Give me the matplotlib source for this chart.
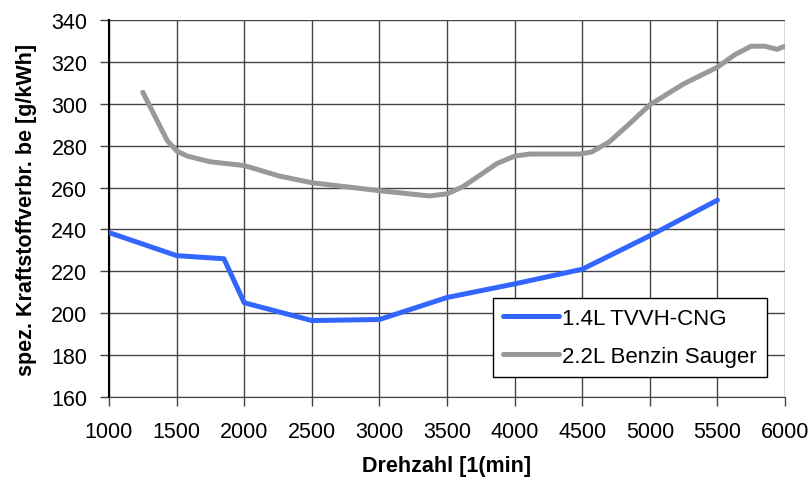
import matplotlib
matplotlib.use("Agg")
import matplotlib.pyplot as plt

plt.rcParams['font.family'] = ['Liberation Sans', 'DejaVu Sans']

# 1.4L TVVH-CNG
rpm_cng = [1000, 1500, 1850, 2000, 2500, 3000, 3500, 4000, 4500, 5000, 5500]
be_cng = [238.5, 227.5, 226, 205, 196.5, 197, 207.5, 214, 221, 237, 254]

# 2.2L Benzin Sauger
rpm_benz = [1250, 1430, 1500, 1580, 1750, 2000, 2260, 2500, 3000, 3370, 3500,
            3620, 3870, 4000, 4110, 4480, 4570, 4700, 4850, 5000, 5250, 5500,
            5630, 5750, 5850, 5940, 6000]
be_benz = [305.5, 282.5, 277.5, 275, 272.3, 270.5, 265.5, 262.3, 258.5, 256, 257,
           260.5, 271.5, 275, 276, 276, 277, 281.8, 290.5, 299.5, 309.5, 317.5,
           323.5, 327.5, 327.5, 326, 327.5]

fig = plt.figure(figsize=(8.11, 4.81), dpi=100)
ax = fig.add_axes([0.1344, 0.1726, 0.8336, 0.7837])

ax.plot(rpm_cng, be_cng, color='#3366ff', lw=3.6, label='1.4L TVVH-CNG',
        solid_capstyle='round', zorder=3)
ax.plot(rpm_benz, be_benz, color='#999999', lw=3.6, label='2.2L Benzin Sauger',
        solid_capstyle='round', zorder=3)

ax.set_xlim(1000, 6000)
ax.set_ylim(160, 340)
ax.set_xticks(range(1000, 6001, 500))
ax.set_yticks(range(160, 341, 20))
ax.grid(True, color='#444444', lw=1)
ax.set_axisbelow(True)
for s in ['top', 'right']:
    ax.spines[s].set_visible(False)
ax.spines['bottom'].set_color('#444444')
ax.spines['left'].set_linewidth(1.5)
ax.tick_params(direction='out', length=6.5, width=1, color='#444444',
               labelsize=15.5)
ax.tick_params(axis='x', pad=11)
ax.tick_params(axis='y', pad=9)

ax.set_xlabel('Drehzahl [1(min]', fontsize=15.5, fontweight='bold')
ax.set_ylabel('spez. Kraftstoffverbr. be [g/kWh]', fontsize=15.5, fontweight='bold')
ax.xaxis.set_label_coords(0.5, -0.155)
ax.yaxis.set_label_coords(-0.106, 0.5)

leg = ax.legend(loc='upper left', bbox_to_anchor=(0.568, 0.263), borderaxespad=0,
                fontsize=16, frameon=True, fancybox=False, handlelength=2.5,
                handletextpad=0.15, labelspacing=0.75, borderpad=0.45)
leg.get_frame().set_edgecolor('black')
leg.get_frame().set_linewidth(1)
leg.get_frame().set_alpha(1)

fig.savefig('out.png', dpi=100)
